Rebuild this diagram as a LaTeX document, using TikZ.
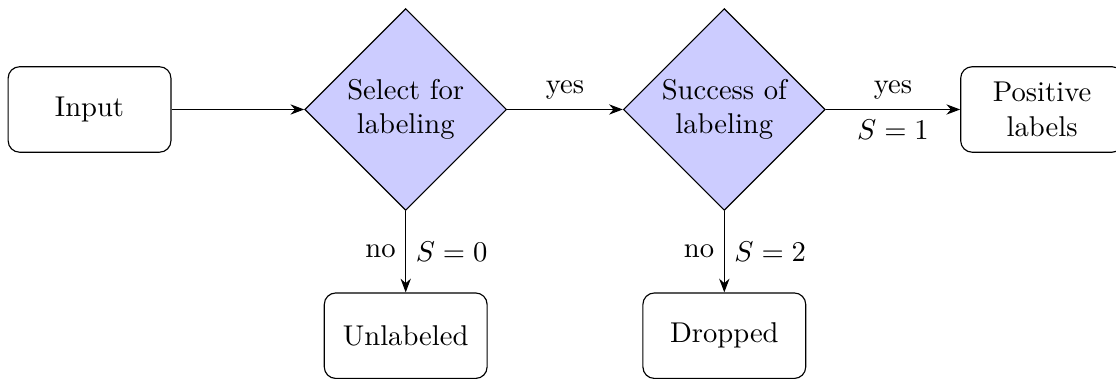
\documentclass[tikz,border=0pt]{standalone}
\usepackage{amsmath}
\usepackage{xcolor}
\usepackage{tikz}
\usetikzlibrary{shapes.geometric, arrows.meta, positioning}

\begin{document}
\begin{tikzpicture}[
    node distance=1cm,
    box/.style={rectangle, draw=black, minimum width=2cm, minimum height=1.05cm, text centered, align=center, rounded corners},
    decision/.style={diamond, draw=black, fill=blue!20, minimum size=2.48cm, inner sep=1pt, text centered, align=center},
    arrow/.style={-{Stealth}, black}
]
\useasboundingbox (-1.10,-3.311) rectangle (12.61,1.345);

\node[box] (input) {Input};
\node[decision, right=1.63cm of input] (select) {Select for\\labeling};
\node[decision, right=1.42cm of select] (success) {Success of\\labeling};
\node[box, right=1.65cm of success] (positive) {Positive\\labels};
\node[box, below=of select] (unlabeled) {Unlabeled};
\node[box, below=of success] (dropped) {Dropped};

\draw[arrow] (input) -- (select);
\draw[arrow] (select) -- node[above] {yes} (success);
\draw[arrow] (success) -- node[above] {yes} node[below] {$S=1$} (positive);
\draw[arrow] (select) -- node[left] {no} node[right] {$S=0$} (unlabeled);
\draw[arrow] (success) -- node[left] {no} node[right] {$S=2$} (dropped);

\end{tikzpicture}
\end{document}
